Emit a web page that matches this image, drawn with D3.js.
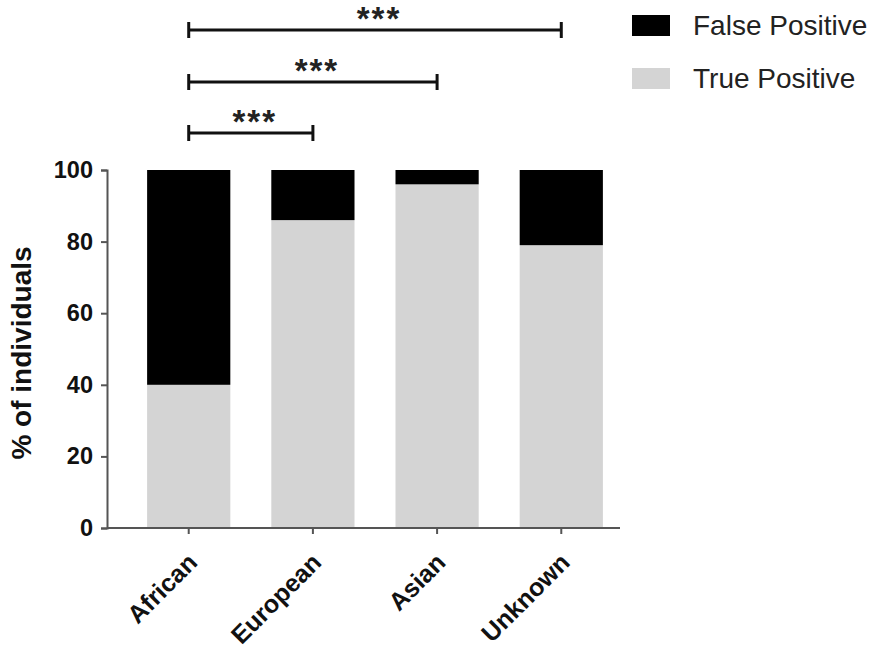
<!DOCTYPE html>
<html><head><meta charset="utf-8">
<script src="https://cdn.jsdelivr.net/npm/d3@7/dist/d3.min.js"></script>
<style>body{margin:0;background:#fff}</style>
</head><body>
<svg id="c" width="869" height="649"></svg>
<script>
const categories = ["African","European","Asian","Unknown"];
const truePositive = [40, 86, 96, 79];
const falsePositive = [60, 14, 4, 21];
const yTicks = [0,20,40,60,80,100];
const seriesNames = ["False Positive","True Positive"];
const seriesColors = ["#000000","#d4d4d4"];
const comparisons = [["African","Unknown","***"],["African","Asian","***"],["African","European","***"]];

const svg = d3.select("#c");
const font = "Liberation Sans, Arial, sans-serif";
const x = d3.scaleBand().domain(categories).range([126, 624]).paddingInner(0.33).paddingOuter(0.17);
const y = d3.scaleLinear().domain([0,100]).range([528,170]);

const data = categories.map((c,i)=>({cat:c, tp:truePositive[i], fp:falsePositive[i]}));
const g = svg.append("g");
g.selectAll("rect.tp").data(data).join("rect").attr("class","tp")
  .attr("x", d=>x(d.cat)).attr("width", x.bandwidth())
  .attr("y", d=>y(d.tp)).attr("height", d=>y(0)-y(d.tp)).attr("fill", seriesColors[1]);
g.selectAll("rect.fp").data(data).join("rect").attr("class","fp")
  .attr("x", d=>x(d.cat)).attr("width", x.bandwidth())
  .attr("y", d=>y(d.tp+d.fp)).attr("height", d=>y(d.tp)-y(d.tp+d.fp)).attr("fill", seriesColors[0]);

// y axis
const ya = svg.append("g").attr("transform","translate(107,0)")
  .call(d3.axisLeft(y).tickValues(yTicks).tickSize(6).tickPadding(8));
ya.select(".domain").attr("stroke","#555").attr("stroke-width",2);
ya.selectAll(".tick line").attr("stroke","#555").attr("stroke-width",2);
ya.selectAll("text").attr("font-family",font).attr("font-weight","bold").attr("font-size",23.5).attr("fill","#111");

// x axis
const xa = svg.append("g").attr("transform","translate(0,528)")
  .call(d3.axisBottom(x).tickSize(6).tickSizeOuter(0));
xa.select(".domain").attr("d","M107,0H620").attr("stroke","#555").attr("stroke-width",2);
xa.selectAll(".tick line").attr("stroke","#555").attr("stroke-width",2);
xa.selectAll("text").attr("font-family",font).attr("font-weight","bold").attr("font-size",25).attr("fill","#111")
  .attr("text-anchor","end").attr("dy",0).attr("y",0)
  .attr("transform","translate(10,36) rotate(-45)");

// y label
svg.append("text").attr("transform","translate(31,353) rotate(-90)")
  .attr("text-anchor","middle").attr("font-family",font).attr("font-weight","bold")
  .attr("font-size",28).attr("fill","#111").text("% of individuals");

// brackets
const bY = [30, 82, 133];
const cx = c => x(c) + x.bandwidth()/2;
comparisons.forEach((cmp,i)=>{
  const x1 = cx(cmp[0]), x2 = cx(cmp[1]), yy = bY[i];
  const b = svg.append("g").attr("stroke","#111").attr("stroke-width",3);
  b.append("line").attr("x1",x1).attr("x2",x2).attr("y1",yy).attr("y2",yy);
  b.append("line").attr("x1",x1).attr("x2",x1).attr("y1",yy-8).attr("y2",yy+8);
  b.append("line").attr("x1",x2).attr("x2",x2).attr("y1",yy-8).attr("y2",yy+8);
  svg.append("text").attr("x",(x1+x2)/2 + 4).attr("y",yy).attr("text-anchor","middle")
    .attr("font-family",font).attr("font-weight","bold").attr("font-size",33)
    .attr("letter-spacing",2).attr("fill","#222").text(cmp[2]);
});

// legend
seriesNames.forEach((n,i)=>{
  const ly = 15 + i*53;
  svg.append("rect").attr("x",632).attr("y",ly).attr("width",38).attr("height",21).attr("fill",seriesColors[i]);
  svg.append("text").attr("x",693).attr("y",ly+20).attr("font-family",font).attr("font-size",28)
    .attr("fill","#222").text(n);
});
</script>
</body></html>
